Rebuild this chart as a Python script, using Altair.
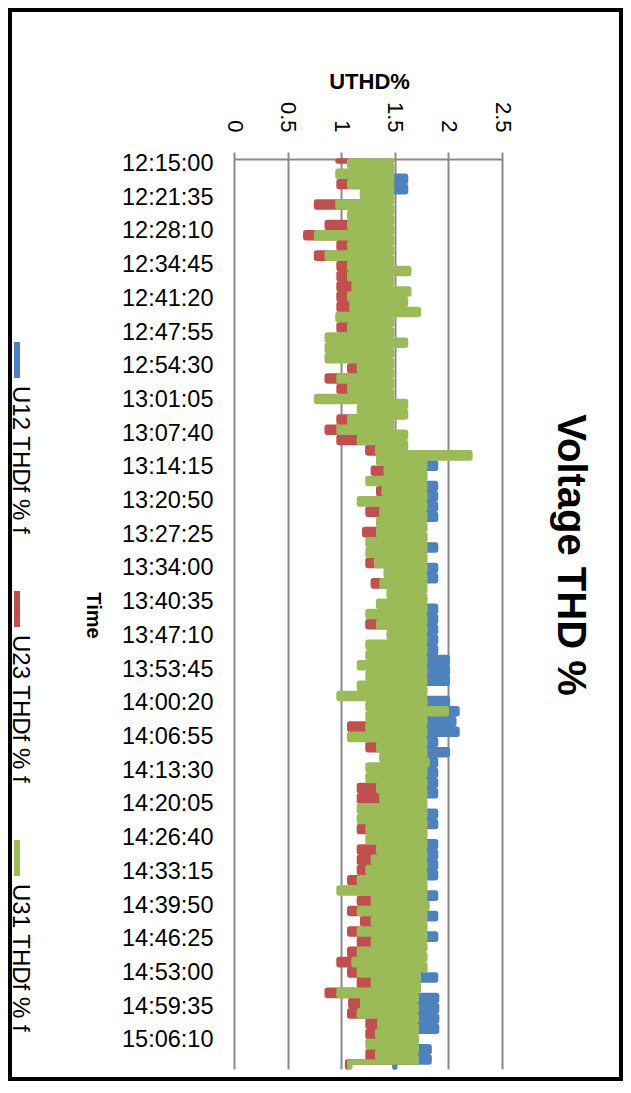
import altair as alt
import pandas as pd

FONT = "Liberation Sans"
GRID = "#8a8a8a"

# Time axis tick labels
tick_labels = ["12:15:00", "12:21:35", "12:28:10", "12:34:45", "12:41:20", "12:47:55",
               "12:54:30", "13:01:05", "13:07:40", "13:14:15", "13:20:50", "13:27:25",
               "13:34:00", "13:40:35", "13:47:10", "13:53:45", "14:00:20", "14:06:55",
               "14:13:30", "14:20:05", "14:26:40", "14:33:15", "14:39:50", "14:46:25",
               "14:53:00", "14:59:35", "15:06:10"]
value_ticks = [0, 0.5, 1, 1.5, 2, 2.5]

series_names = ["U12 THDf % f", "U23 THDf % f", "U31 THDf % f"]
series_colors = ["#4F81BD", "#C0504D", "#9BBB59"]

# one reading per minute, first at 12:14:30
u12 = [1.45, 1.25, 1.45, 1.25, 1.6, 1.25, 1.6, 1.25, 1.45, 1.25,
       1.45, 1.25, 1.45, 1.25, 1.45, 1.25, 1.45, 1.25, 1.45, 1.25,
       1.45, 1.25, 1.45, 1.25, 1.45, 1.25, 1.45, 1.25, 1.45, 1.25,
       1.45, 1.25, 1.45, 1.25, 1.45, 1.25, 1.45, 1.25, 1.45, 1.25,
       1.45, 1.25, 1.45, 1.25, 1.45, 1.25, 1.45, 1.25, 1.45, 1.25,
       1.45, 1.25, 1.45, 1.25, 1.45, 1.25, 1.45, 1.25, 1.75, 1.5,
       1.88, 1.5, 1.75, 1.5, 1.88, 1.5, 1.88, 1.5, 1.88, 1.5,
       1.88, 1.5, 1.75, 1.5, 1.75, 1.5, 1.88, 1.5, 1.75, 1.5,
       1.88, 1.5, 1.88, 1.5, 1.75, 1.5, 1.75, 1.5, 1.88, 1.5,
       1.88, 1.5, 1.88, 1.5, 1.88, 1.5, 1.88, 1.5, 1.99, 1.5,
       1.99, 1.5, 1.99, 1.5, 1.75, 1.5, 1.99, 1.5, 2.08, 1.5,
       2.05, 1.5, 2.08, 1.5, 1.88, 1.5, 1.99, 1.5, 1.88, 1.5,
       1.88, 1.5, 1.88, 1.5, 1.88, 1.5, 1.75, 1.5, 1.88, 1.5,
       1.88, 1.5, 1.75, 1.5, 1.88, 1.5, 1.88, 1.5, 1.88, 1.5,
       1.88, 1.5, 1.75, 1.5, 1.88, 1.5, 1.75, 1.5, 1.88, 1.5,
       1.75, 1.5, 1.88, 1.5, 1.75, 1.5, 1.75, 1.5, 1.75, 1.5,
       1.88, 1.5, 1.68, 1.5, 1.89, 1.5, 1.89, 1.5, 1.89, 1.5,
       1.89, 1.5, 1.68, 1.5, 1.82, 1.5, 1.82, 1.5]

u23 = [0.97, 1.2, 1.45, 1.2, 1.45, 0.98, 1.45, 1.2, 1.45, 0.77,
       1.45, 1.2, 1.45, 0.87, 1.45, 0.67, 1.45, 0.98, 1.45, 0.77,
       1.45, 0.98, 1.45, 0.98, 1.45, 0.98, 1.45, 0.98, 1.45, 0.98,
       1.45, 1.2, 1.45, 0.98, 1.45, 1.2, 1.45, 1.2, 1.45, 1.2,
       1.45, 1.08, 1.45, 0.87, 1.45, 0.98, 1.45, 1.2, 1.45, 1.2,
       1.45, 0.98, 1.45, 0.87, 1.45, 0.98, 1.45, 1.25, 1.72, 1.45,
       1.72, 1.3, 1.72, 1.45, 1.72, 1.35, 1.72, 1.45, 1.72, 1.25,
       1.72, 1.45, 1.72, 1.22, 1.72, 1.45, 1.72, 1.45, 1.72, 1.25,
       1.72, 1.45, 1.72, 1.3, 1.72, 1.45, 1.72, 1.45, 1.72, 1.45,
       1.72, 1.25, 1.72, 1.45, 1.72, 1.45, 1.72, 1.45, 1.72, 1.45,
       1.72, 1.45, 1.72, 1.45, 1.72, 1.45, 1.72, 1.45, 1.72, 1.45,
       1.72, 1.08, 1.72, 1.45, 1.72, 1.25, 1.72, 1.45, 1.72, 1.45,
       1.72, 1.45, 1.72, 1.17, 1.72, 1.17, 1.72, 1.45, 1.72, 1.45,
       1.72, 1.17, 1.72, 1.45, 1.72, 1.17, 1.72, 1.17, 1.72, 1.17,
       1.72, 1.08, 1.72, 1.45, 1.72, 1.17, 1.72, 1.08, 1.72, 1.2,
       1.72, 1.08, 1.72, 1.17, 1.72, 1.08, 1.72, 0.98, 1.72, 1.08,
       1.65, 1.17, 1.65, 0.87, 1.65, 1.09, 1.65, 1.08, 1.65, 1.25,
       1.65, 1.25, 1.65, 1.45, 1.65, 1.25, 1.65, 1.06]

u31 = [1.47, 1.08, 1.47, 0.97, 1.47, 1.08, 1.47, 1.2, 1.47, 0.97,
       1.47, 1.08, 1.47, 1.08, 1.47, 0.77, 1.47, 1.08, 1.47, 0.87,
       1.47, 1.08, 1.63, 1.08, 1.47, 1.12, 1.63, 1.08, 1.6, 1.1,
       1.72, 0.97, 1.47, 1.08, 1.47, 0.87, 1.6, 0.87, 1.47, 0.87,
       1.47, 1.17, 1.47, 0.98, 1.47, 1.08, 1.47, 0.77, 1.6, 1.17,
       1.6, 1.08, 1.47, 0.98, 1.6, 1.17, 1.6, 1.34, 2.2, 1.35,
       1.78, 1.42, 1.78, 1.25, 1.78, 1.4, 1.78, 1.17, 1.78, 1.38,
       1.78, 1.35, 1.78, 1.35, 1.78, 1.25, 1.78, 1.25, 1.78, 1.33,
       1.78, 1.42, 1.78, 1.38, 1.78, 1.45, 1.78, 1.35, 1.78, 1.25,
       1.78, 1.35, 1.78, 1.45, 1.78, 1.25, 1.78, 1.25, 1.78, 1.17,
       1.78, 1.25, 1.78, 1.17, 1.78, 0.98, 1.78, 1.25, 1.98, 1.25,
       1.78, 1.25, 1.78, 1.08, 1.78, 1.35, 1.78, 1.38, 1.8, 1.25,
       1.78, 1.25, 1.78, 1.35, 1.78, 1.38, 1.78, 1.17, 1.78, 1.17,
       1.78, 1.25, 1.78, 1.25, 1.78, 1.35, 1.78, 1.3, 1.78, 1.25,
       1.78, 1.17, 1.78, 0.98, 1.78, 1.3, 1.8, 1.17, 1.78, 1.3,
       1.78, 1.17, 1.78, 1.3, 1.78, 1.17, 1.78, 1.12, 1.78, 1.17,
       1.72, 1.3, 1.72, 0.98, 1.7, 1.2, 1.7, 1.17, 1.7, 1.36,
       1.7, 1.34, 1.7, 1.25, 1.7, 1.34, 1.7, 1.08]

n = min(len(u12), len(u23), len(u31))
times = pd.date_range("2020-01-01 12:14:30", periods=n, freq="60s")
rows = []
for name, vals in zip(series_names, [u12, u23, u31]):
    for i in range(n):
        rows.append({"time": times[i].strftime("%Y-%m-%dT%H:%M:%S"),
                     "value": vals[i], "series": name, "i": i})
df = pd.DataFrame(rows)


def dt(s):
    h, m, sec = (int(p) for p in s.split(":"))
    return alt.DateTime(year=2020, month=1, date=1, hours=h, minutes=m, seconds=sec)


x_enc = alt.X(
    "value:Q",
    scale=alt.Scale(domain=[0, 2.5], nice=False, zero=False),
    axis=alt.Axis(
        orient="top", values=value_ticks, format="~g", title="UTHD%",
        labelAngle=90, labelAlign="right", labelBaseline="middle",
        labelFontSize=22, labelColor="black", labelPadding=20,
        tickSize=7, tickColor=GRID, tickWidth=2,
        domainColor=GRID, domainWidth=2,
        grid=True, gridColor=GRID, gridWidth=2,
        titleFontSize=22, titleFontWeight="bold", titleColor="black",
        titleX=135, titleY=-78, titleAlign="center", titleBaseline="middle",
    ),
)

y_enc = alt.Y(
    "time:T",
    scale=alt.Scale(domain=[dt("12:14:07"), dt("15:11:52")], reverse=True, nice=False),
    axis=alt.Axis(
        values=[dt(s) for s in tick_labels], format="%H:%M:%S", title="Time",
        labelFontSize=23.5, labelColor="black", labelPadding=21, labelOverlap=False,
        ticks=False, domain=False, grid=False,
        titleAngle=90, titleX=-142, titleY=456, titleAlign="center",
        titleBaseline="middle", titleFontSize=20, titleFontWeight="bold",
        titleColor="black",
    ),
)

one = pd.DataFrame({"k": [0]})

frame = alt.Chart(one).mark_rect(fillOpacity=0, stroke="black", strokeWidth=4).encode(
    x=alt.value(-224), x2=alt.value(387), y=alt.value(-149), y2=alt.value(920)
)

layers = [frame]
for name, color in zip(series_names, series_colors):
    layers.append(
        alt.Chart(df)
        .transform_filter(alt.datum.series == name)
        .mark_line(color=color, strokeWidth=5.5, interpolate="step-after",
                   strokeJoin="round", strokeCap="round")
        .encode(x=x_enc, y=y_enc, order=alt.Order("i:Q"))
    )

title_text = alt.Chart(pd.DataFrame({"t": ["Voltage THD %"]})).mark_text(
    angle=90, fontSize=40, fontWeight="bold", align="center", baseline="middle",
    color="black"
).encode(text="t:N", x=alt.value(336), y=alt.value(396))
layers.append(title_text)

for k, (name, color) in enumerate(zip(series_names, series_colors)):
    off = 249 * k
    layers.append(
        alt.Chart(one).mark_rule(color=color, strokeWidth=6).encode(
            x=alt.value(-217), y=alt.value(183 + off), y2=alt.value(219 + off))
    )
    layers.append(
        alt.Chart(pd.DataFrame({"t": [name]})).mark_text(
            angle=90, fontSize=24, align="left", baseline="middle", color="black"
        ).encode(text="t:N", x=alt.value(-214), y=alt.value(227 + off))
    )

chart = (
    alt.layer(*layers)
    .properties(width=268, height=910, padding=0, background="white")
    .configure(font=FONT)
    .configure_view(strokeWidth=0)
)

chart.save("out.html", embed_options={"renderer": "svg", "actions": False})
